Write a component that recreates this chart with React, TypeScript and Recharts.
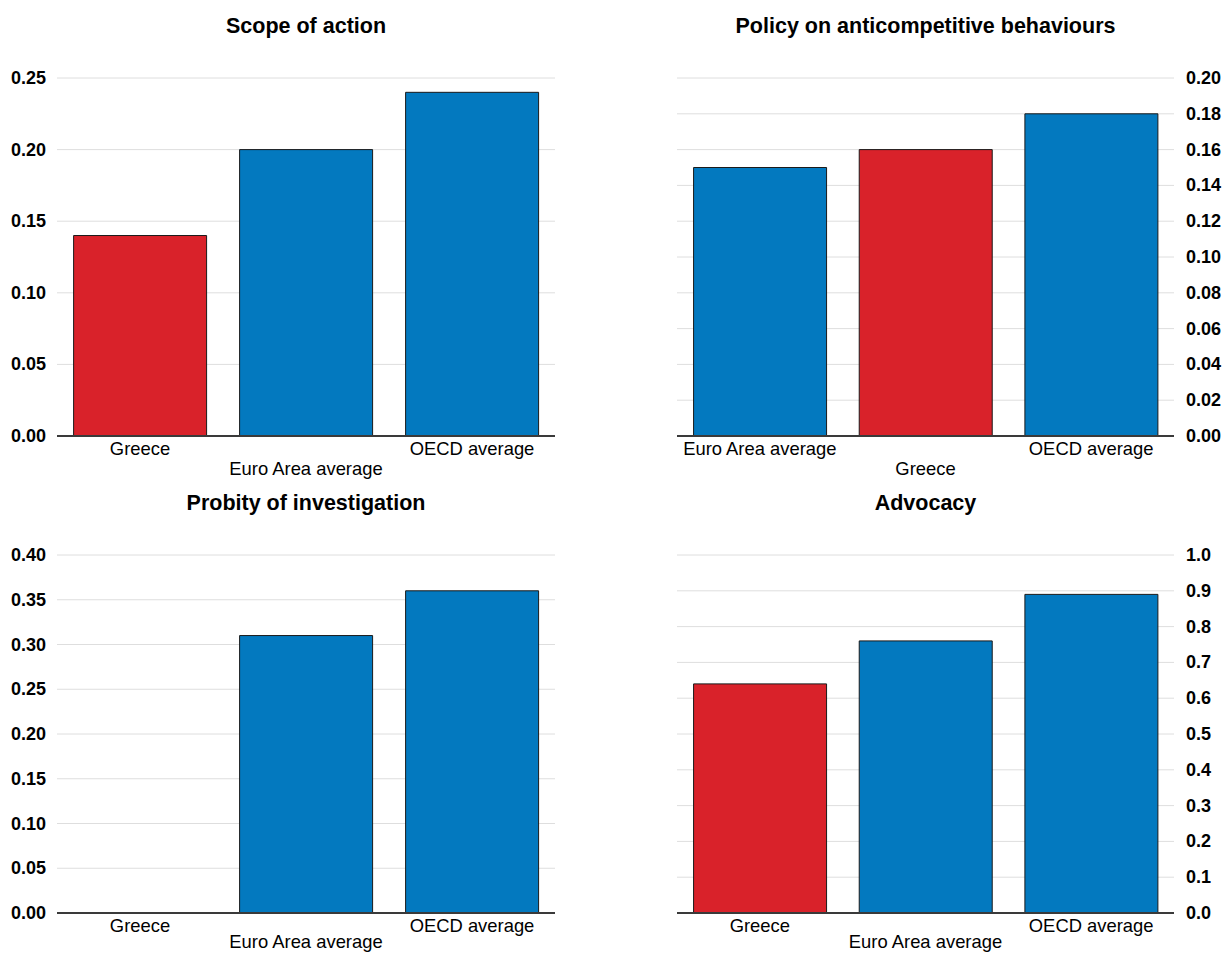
import { BarChart, Bar, CartesianGrid, Cell, XAxis, YAxis } from "recharts";

const scopeCategories = ["Greece", "Euro Area average", "OECD average"];
const scopeValues = [0.14, 0.2, 0.24];
const scopeTicks = [0, 0.05, 0.1, 0.15, 0.2, 0.25];

const policyCategories = ["Euro Area average", "Greece", "OECD average"];
const policyValues = [0.15, 0.16, 0.18];
const policyTicks = [0, 0.02, 0.04, 0.06, 0.08, 0.1, 0.12, 0.14, 0.16, 0.18, 0.2];

const probityCategories = ["Greece", "Euro Area average", "OECD average"];
const probityValues = [0, 0.31, 0.36];
const probityTicks = [0, 0.05, 0.1, 0.15, 0.2, 0.25, 0.3, 0.35, 0.4];

const advocacyCategories = ["Greece", "Euro Area average", "OECD average"];
const advocacyValues = [0.64, 0.76, 0.89];
const advocacyTicks = [0, 0.1, 0.2, 0.3, 0.4, 0.5, 0.6, 0.7, 0.8, 0.9, 1.0];

const RED = "#d9222a";
const BLUE = "#0379bf";
const FONT = '"Liberation Sans", Arial, sans-serif';

const W = 611;
const H = 477;

interface PanelProps {
  title: string;
  categories: string[];
  values: number[];
  ticks: number[];
  decimals: number;
  side: "left" | "right";
  left: number;
  top: number;
  lowLabelDy?: number;
}

function Panel({ title, categories, values, ticks, decimals, side, left, top, lowLabelDy = 39 }: PanelProps) {
  const data = categories.map((name, i) => ({ name, value: values[i] }));
  const margin =
    side === "left"
      ? { top: 78, right: 56, bottom: 0, left: 0 }
      : { top: 78, right: 0, bottom: 0, left: 66 };
  const yWidth = side === "left" ? 57 : 48;
  const plotCenter = side === "left" ? (57 + W - 56) / 2 : (66 + W - 48) / 2;

  const yTick = (props: any) => {
    const { x, y, payload } = props;
    const tx = side === "left" ? 11 : x + 12;
    return (
      <text x={tx} y={y} dy={6} textAnchor="start" fontSize={18} fontWeight="bold" fill="#000" fontFamily={FONT}>
        {payload.value.toFixed(decimals)}
      </text>
    );
  };

  // staggered category labels: every second one sits on a lower row
  const xTick = (props: any) => {
    const { x, y, payload, index } = props;
    return (
      <text x={x} y={y} dy={index % 2 === 1 ? lowLabelDy : 19} textAnchor="middle" fontSize={18.4} fill="#000" fontFamily={FONT}>
        {payload.value}
      </text>
    );
  };

  return (
    <div style={{ position: "absolute", left, top, width: W, height: H }}>
      <div
        style={{
          position: "absolute",
          top: 13,
          left: plotCenter - 250,
          width: 500,
          textAlign: "center",
          fontFamily: FONT,
          fontWeight: "bold",
          fontSize: 21.5,
          lineHeight: "26px",
          color: "#000",
        }}
      >
        {title}
      </div>
      <BarChart width={W} height={H} data={data} margin={margin} barCategoryGap="10%">
        <CartesianGrid vertical={false} stroke="#dedede" strokeWidth={1} />
        <XAxis
          dataKey="name"
          interval={0}
          height={41}
          tickSize={0}
          tickMargin={0}
          tick={xTick}
          axisLine={{ stroke: "#3a3a3a", strokeWidth: 2 }}
        />
        <YAxis
          orientation={side}
          width={yWidth}
          domain={[ticks[0], ticks[ticks.length - 1]]}
          ticks={ticks}
          interval={0}
          tickSize={0}
          tickMargin={0}
          tick={yTick}
          axisLine={false}
          tickLine={false}
        />
        <Bar dataKey="value" stroke="#1a1a1a" strokeWidth={1} isAnimationActive={false}>
          {data.map((d) => (
            <Cell key={d.name} fill={d.name === "Greece" ? RED : BLUE} />
          ))}
        </Bar>
      </BarChart>
    </div>
  );
}

export default function App() {
  return (
    <div style={{ position: "absolute", left: 0, top: 0, width: 1223, height: 954, background: "#fff", overflow: "hidden" }}>
      <style>{`.recharts-surface { overflow: visible; } .recharts-wrapper { overflow: visible; }`}</style>
      <Panel
        title="Scope of action"
        categories={scopeCategories}
        values={scopeValues}
        ticks={scopeTicks}
        decimals={2}
        side="left"
        left={0}
        top={0}
      />
      <Panel
        title="Policy on anticompetitive behaviours"
        categories={policyCategories}
        values={policyValues}
        ticks={policyTicks}
        decimals={2}
        side="right"
        left={611}
        top={0}
      />
      <Panel
        title="Probity of investigation"
        categories={probityCategories}
        values={probityValues}
        ticks={probityTicks}
        decimals={2}
        side="left"
        left={0}
        top={477}
        lowLabelDy={35}
      />
      <Panel
        title="Advocacy"
        categories={advocacyCategories}
        values={advocacyValues}
        ticks={advocacyTicks}
        decimals={1}
        side="right"
        left={611}
        top={477}
        lowLabelDy={35}
      />
    </div>
  );
}
